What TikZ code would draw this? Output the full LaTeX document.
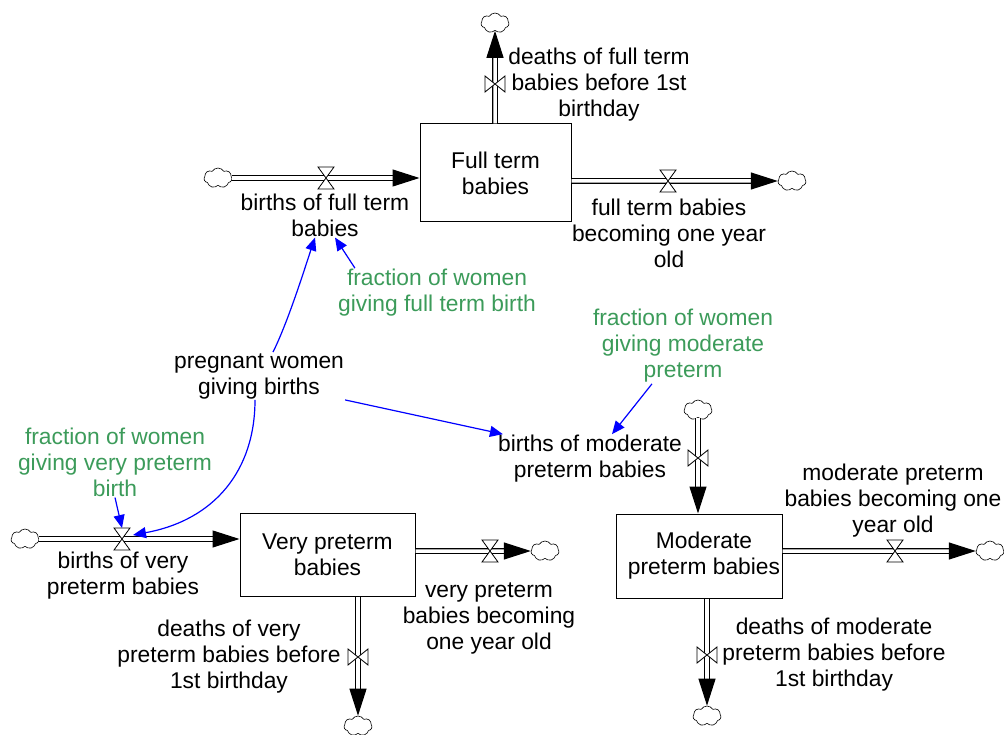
\documentclass[tikz,border=0pt]{standalone}
\usepackage{fontspec}
\setmainfont{Liberation Sans}
\usetikzlibrary{arrows.meta,shapes.symbols,calc}
\definecolor{fgreen}{RGB}{60,155,90}
\begin{document}
\begin{tikzpicture}[x=1pt,y=-1pt,
  lbl/.style={align=center,font=\fontsize{22.8}{26}\selectfont,inner sep=1pt},
  glbl/.style={lbl,text=fgreen},
  stock/.style={lbl,draw,line width=1pt},
  cld/.style={cloud,cloud puffs=7,cloud puff arc=120,aspect=1.4,draw,line width=0.6pt,minimum width=28pt,minimum height=20pt,inner sep=0pt},
  pipe/.style={double,double distance=3.5pt,line width=1.1pt,-{Triangle[length=27pt,width=17pt]}},
  info/.style={blue,line width=1.2pt,-{Triangle[length=13pt,width=11pt]}},
  valveline/.style={draw,fill=white,line width=0.8pt},
  hvalve/.pic={\path[valveline] (-8,-11) -- (8,-11) -- (-8,11) -- (8,11) -- cycle;},
  vvalve/.pic={\path[valveline] (-10,-8) -- (-10,8) -- (10,-8) -- (10,8) -- cycle;}]
\useasboundingbox (0,0) rectangle (1004,735);

% stocks
\node[stock,minimum width=151pt,minimum height=98pt] (ft) at (495.5,173) {Full term\\babies};
\node[stock,minimum width=175pt,minimum height=83pt] (vp) at (327.5,554.5) {Very preterm\\babies};
\node[stock,minimum width=166pt,minimum height=84pt] (mp) at (699,556) {\hspace*{10pt}Moderate\\\hspace*{10pt}preterm babies};

% clouds
\node[cld] (c1) at (218,178) {};
\node[cld] (c2) at (495,23) {};
\node[cld] (c3) at (792,181) {};
\node[cld] (c4) at (698,410) {};
\node[cld] (c5) at (990,551) {};
\node[cld] (c6) at (707,716) {};
\node[cld] (c7) at (25,539) {};
\node[cld] (c8) at (545,551) {};
\node[cld] (c9) at (358,726) {};

% pipes
\draw[pipe] (c1.east) -- (c1.east -| ft.west);
\draw[pipe] (ft.north -| c2) -- (c2.south);
\draw[pipe] (ft.east |- c3) -- (c3.west);
\draw[pipe] (c4.south) -- (c4.south |- mp.north);
\draw[pipe] (mp.east |- c5) -- (c5.west);
\draw[pipe] (mp.south -| c6) -- (c6.north);
\draw[pipe] (c7.east) -- (c7.east -| vp.west);
\draw[pipe] (vp.east |- c8) -- (c8.west);
\draw[pipe] (vp.south -| c9) -- (c9.north);

% valves
\coordinate (vbft) at (326,178);
\coordinate (vdft) at (495,84);
\coordinate (vftb) at (668,181);
\coordinate (vbmp) at (698,458);
\coordinate (vmpb) at (895,551);
\coordinate (vdmp) at (707,655);
\coordinate (vbvp) at (122,539);
\coordinate (vvpb) at (490,551);
\coordinate (vdvp) at (358,657);
\pic at (vbft) {hvalve};
\pic at (vdft) {vvalve};
\pic at (vftb) {hvalve};
\pic at (vbmp) {vvalve};
\pic at (vmpb) {hvalve};
\pic at (vdmp) {vvalve};
\pic at (vbvp) {hvalve};
\pic at (vvpb) {hvalve};
\pic at (vdvp) {vvalve};

% labels
\node[lbl] (bft) at (325,215) {births of full term\\babies};
\node[lbl] (dft) at (599,85) {deaths of full term\\babies before 1st\\birthday};
\node[lbl] (ftb) at (669,233) {full term babies\\becoming one year\\old};
\node[glbl] (gft) at (437,293) {fraction of women\\giving full term birth};
\node[lbl] (pw) at (259,376) {pregnant women\\giving births};
\node[glbl] (gmp) at (683,346) {fraction of women\\giving moderate\\preterm};
\node[lbl] (bmp) at (590,459) {births of moderate\\preterm babies};
\node[glbl] (gvp) at (115,462) {fraction of women\\giving very preterm\\birth};
\node[lbl] (bvp) at (123,576) {births of very\\preterm babies};
\node[lbl] (vpb) at (489,618) {very preterm\\babies becoming\\one year old};
\node[lbl] (dvp) at (229,657) {deaths of very\\preterm babies before\\1st birthday};
\node[lbl] (mpb) at (893,501) {moderate preterm\\babies becoming one\\year old};
\node[lbl] (dmp) at (834,655) {deaths of moderate\\preterm babies before\\1st birthday};

% information links
\draw[info] ([xshift=14pt]pw.north) .. controls +(15,-30) and +(-10,30) .. ([xshift=-10pt]bft.south);
\draw[info] ([xshift=18pt]gft.north west) -- ([xshift=10pt]bft.south);
\draw[info] (pw.south east) -- ([xshift=6pt]bmp.north west);
\draw[info] ([xshift=-31pt]gmp.south) -- ([xshift=22pt]bmp.north);
\draw[info] ([xshift=-4pt]pw.south) .. controls (255,470) and (215,520) .. ($(vbvp)+(11,-4)$);
\draw[info] (gvp.south) -- ($(vbvp)+(0,-11)$);
\end{tikzpicture}
\end{document}
